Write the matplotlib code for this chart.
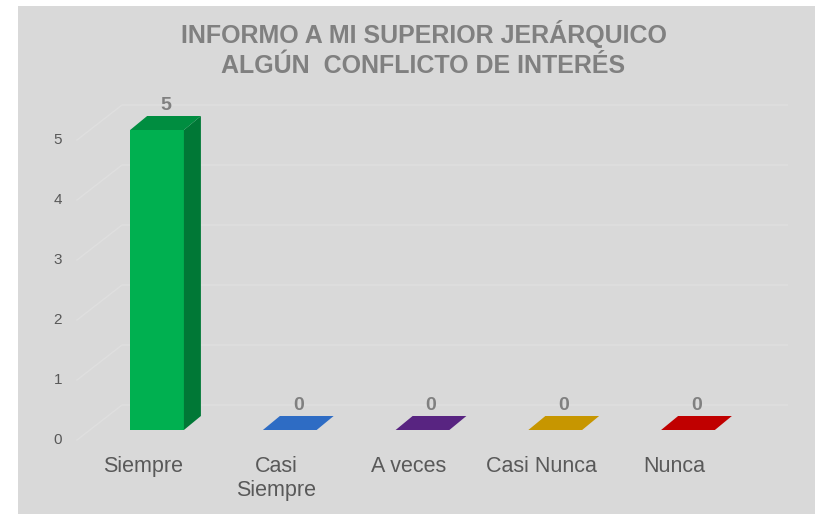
import matplotlib
matplotlib.use("Agg")
import matplotlib.pyplot as plt
from matplotlib.patches import Polygon, Rectangle
import numpy as np

CATEGORIES = ["Siempre", "Casi\nSiempre", "A veces", "Casi Nunca", "Nunca"]
VALUES = [5, 0, 0, 0, 0]
COLORS = ["#00b050", "#2e6cc4", "#582481", "#c79600", "#c00000"]
Y_TICKS = [0, 1, 2, 3, 4, 5]
TITLE = "INFORMO A MI SUPERIOR JERÁRQUICO\nALGÚN  CONFLICTO DE INTERÉS"

BG = "#d9d9d9"
GRID = "#dfdfdf"
W, H = 816, 514
BAR_W = 0.405
DX, DY = 17 / 132.7, 14 / 60.0   # depth of bars, in data units


def shade(color, f):
    rgb = np.array(matplotlib.colors.to_rgb(color))
    return tuple(rgb * f)


plt.rcParams["font.family"] = ["Liberation Sans", "DejaVu Sans"]
fig = plt.figure(figsize=(W / 100, H / 100), dpi=100, facecolor="white")
fig.patches.append(Rectangle((18 / W, 0), 797 / W, 508 / H, transform=fig.transFigure,
                             facecolor=BG, edgecolor="none", zorder=-10))

ax = fig.add_axes([90.65 / W, 84 / H, 663.7 / W, 300 / H])
ax.set_xlim(-0.5, 4.5)
ax.set_ylim(0, 5)
ax.axis("off")

# back wall grid lines with the little diagonal on the left
for v in Y_TICKS:
    ax.plot([-0.603, -0.264, 4.748], [v - 10 / 60, v + 25 / 60, v + 25 / 60],
            color=GRID, lw=1, clip_on=False, zorder=1)
    ax.text(-0.746, v - 10 / 60, str(v), ha="center", va="center",
            fontsize=11, color="#595959", clip_on=False)

for i, (v, c) in enumerate(zip(VALUES, COLORS)):
    x0, x1 = i - BAR_W / 2, i + BAR_W / 2
    if v > 0:
        front = Rectangle((x0, 0), BAR_W, v, facecolor=c, edgecolor="none", zorder=3)
        side = Polygon([(x1, 0), (x1 + DX, DY), (x1 + DX, v + DY), (x1, v)],
                       closed=True, facecolor=shade(c, 0.68), edgecolor="none", zorder=3)
        top = Polygon([(x0, v), (x0 + DX, v + DY), (x1 + DX, v + DY), (x1, v)],
                      closed=True, facecolor=shade(c, 0.8), edgecolor="none", zorder=3)
        for p in (front, side, top):
            p.set_clip_on(False)
            ax.add_patch(p)
    else:
        top = Polygon([(x0, 0), (x0 + DX, DY), (x1 + DX, DY), (x1, 0)],
                      closed=True, facecolor=c, edgecolor="none", zorder=3, clip_on=False)
        ax.add_patch(top)
    ax.text(i + DX / 2, v + DY + 0.17, str(v), ha="center", va="center",
            fontsize=14, fontweight="bold", color="#808080", zorder=4, clip_on=False)
    ax.text(i - 0.105, -0.43, CATEGORIES[i], ha="center", va="top", fontsize=15.5,
            color="#595959", linespacing=1.2, clip_on=False)

fig.text(423.5 / W, 1 - 49 / H, TITLE, ha="center", va="center", fontsize=18,
         fontweight="bold", color="#808080", linespacing=1.3)

fig.savefig("out.png", dpi=100, facecolor="white")
